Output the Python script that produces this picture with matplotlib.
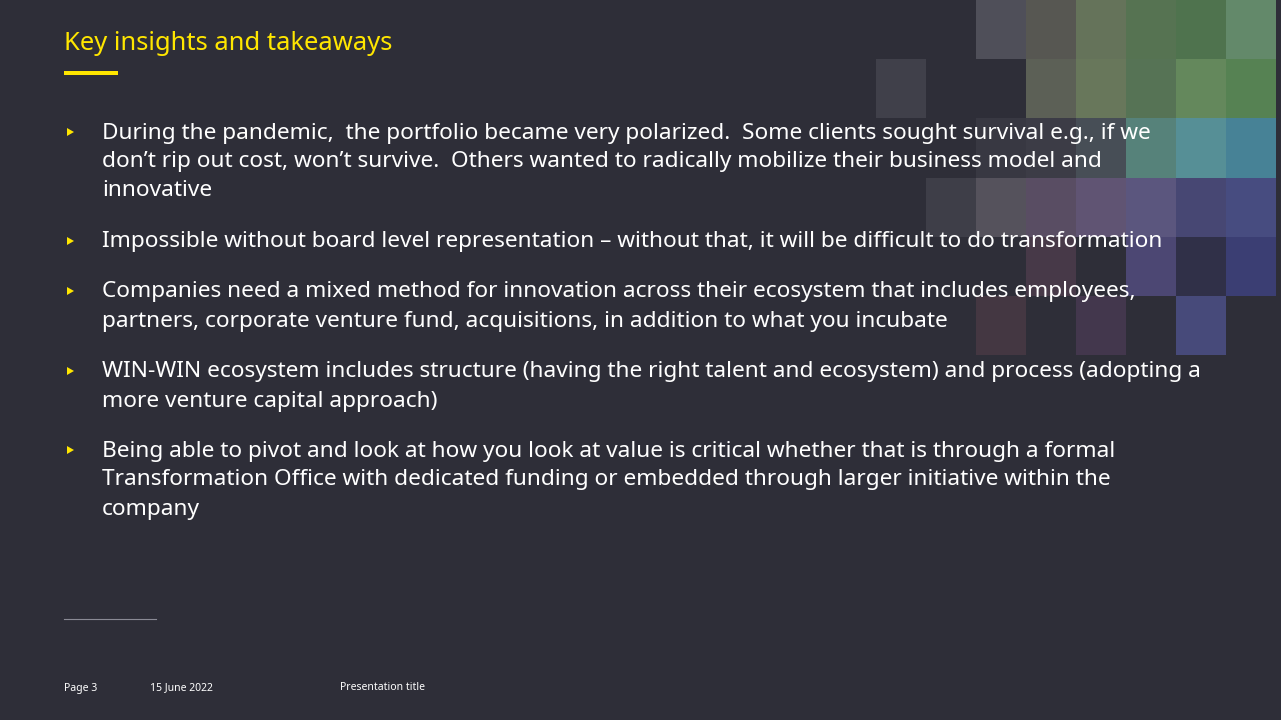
import matplotlib.pyplot as plt
from matplotlib.patches import Rectangle, Polygon

BG = '#2e2e38'
YELLOW = '#ffe600'

title = "Key insights and takeaways"
bullets = [
    ["During the pandemic,  the portfolio became very polarized.  Some clients sought survival e.g., if we",
     "don\u2019t rip out cost, won\u2019t survive.  Others wanted to radically mobilize their business model and",
     "innovative"],
    ["Impossible without board level representation \u2013 without that, it will be difficult to do transformation"],
    ["Companies need a mixed method for innovation across their ecosystem that includes employees,",
     "partners, corporate venture fund, acquisitions, in addition to what you incubate"],
    ["WIN-WIN ecosystem includes structure (having the right talent and ecosystem) and process (adopting a",
     "more venture capital approach)"],
    ["Being able to pivot and look at how you look at value is critical whether that is through a formal",
     "Transformation Office with dedicated funding or embedded through larger initiative within the",
     "company"],
]
bullet_tops = [133, 242, 292, 372, 451]
footer = [("Page 3", 64), ("15 June 2022", 150), ("Presentation title", 340)]

# mosaic cells: (col, row, colour), cols 50px wide from x=876, rows ~59px
mosaic = [
    (2, 0, '#4f4f59'), (3, 0, '#575752'), (4, 0, '#65735a'), (5, 0, '#567352'), (6, 0, '#4f734e'), (7, 0, '#63896a'),
    (0, 1, '#40404a'), (3, 1, '#5c6056'), (4, 1, '#68775b'), (5, 1, '#567355'), (6, 1, '#64885c'), (7, 1, '#568253'),
    (2, 2, '#383842'), (3, 2, '#3c3c46'), (4, 2, '#474e56'), (5, 2, '#56827a'), (6, 2, '#568f96'), (7, 2, '#478296'),
    (1, 3, '#3e3e48'), (2, 3, '#55525c'), (3, 3, '#594d63'), (4, 3, '#605473'), (5, 3, '#5b567e'), (6, 3, '#474773'), (7, 3, '#474c80'),
    (3, 4, '#473948'), (5, 4, '#4c4773'), (6, 4, '#303048'), (7, 4, '#3b3e73'),
    (2, 5, '#443742'), (4, 5, '#43374d'), (6, 5, '#474a7a'),
]

fig = plt.figure(figsize=(12.81, 7.2), dpi=100, facecolor=BG)
ax = fig.add_axes([0, 0, 1, 1])
ax.set_xlim(0, 1281)
ax.set_ylim(720, 0)
ax.axis('off')
ax.set_facecolor(BG)

for c, r, col in mosaic:
    ax.add_patch(Rectangle((876 + c * 50, r * 59.2), 50, 59.2, color=col, lw=0, zorder=1))

font = 'Noto Sans'
ax.text(64, 43, title, color=YELLOW, fontsize=18.4, family=font, va='center', zorder=3)
ax.add_patch(Rectangle((64, 71), 54, 4, color=YELLOW, lw=0, zorder=3))

for top, lines in zip(bullet_tops, bullets):
    ax.add_patch(Polygon([(67, top - 5), (67, top + 3), (74, top - 1)], color=YELLOW, lw=0, zorder=3))
    for i, line in enumerate(lines):
        ax.text(102, top + i * 29, line, color='white', fontsize=16.3, family=font, va='center', zorder=3)

ax.plot([64, 156], [619, 619], color='#8a8a95', lw=0.8, zorder=3)
for txt, x in footer:
    ax.text(x, 688, txt, color='white', fontsize=7.5, family=font, va='center', zorder=3)

fig.savefig('out.png', dpi=100, facecolor=BG)
